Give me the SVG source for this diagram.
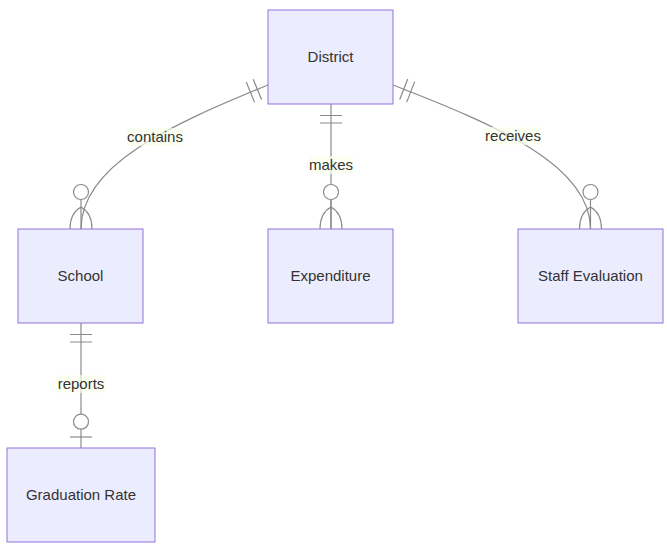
<svg xmlns="http://www.w3.org/2000/svg" width="667" height="548" viewBox="0 0 667 548">
<style>
.ent rect{fill:#ECECFF;stroke:#9370DB;stroke-width:1}
.ent text{font-family:"Liberation Sans",Arial,sans-serif;font-size:15px;fill:#333;text-anchor:middle;dominant-baseline:central}
.rel{fill:none;stroke:#8a8a8a;stroke-width:1.2}
.lbl rect{fill:#f9ffec;opacity:0.7}
.lbl text{font-family:"Liberation Sans",Arial,sans-serif;font-size:15px;fill:#333;text-anchor:middle;dominant-baseline:central}
.mk{fill:none;stroke:#8a8a8a;stroke-width:1.2}
.mkc{fill:#fff;stroke:#8a8a8a;stroke-width:1.2}
</style>
<defs>
<marker id="onlyOneStart" markerUnits="userSpaceOnUse" orient="auto" refX="0" refY="0" markerWidth="40" markerHeight="40" viewBox="-20 -20 40 40" overflow="visible">
<path class="mk" d="M11.5,-11V11M19,-11V11"/>
</marker>
<marker id="zeroOrMoreEnd" markerUnits="userSpaceOnUse" orient="auto" refX="0" refY="0" markerWidth="60" markerHeight="40" viewBox="-50 -20 60 40" overflow="visible">
<path class="mk" d="M-30,0H0M-22,0Q-16,-11 0,-11M-22,0Q-16,11 0,11"/>
<circle class="mkc" cx="-37" cy="0" r="7.5"/>
</marker>
<marker id="zeroOrOneEnd" markerUnits="userSpaceOnUse" orient="auto" refX="0" refY="0" markerWidth="60" markerHeight="40" viewBox="-50 -20 60 40" overflow="visible">
<path class="mk" d="M-11,-11V11"/>
<circle class="mkc" cx="-26.3" cy="0" r="7.5"/>
</marker>
</defs>
<g id="connectors">
<path class="rel" d="M268,85C170,125 81,165 81,229" marker-start="url(#onlyOneStart)" marker-end="url(#zeroOrMoreEnd)"/>
<path class="rel" d="M331,104L331,229" marker-start="url(#onlyOneStart)" marker-end="url(#zeroOrMoreEnd)"/>
<path class="rel" d="M393,85C496,125 590.5,165 590.5,229" marker-start="url(#onlyOneStart)" marker-end="url(#zeroOrMoreEnd)"/>
<path class="rel" d="M81,323L81,448" marker-start="url(#onlyOneStart)" marker-end="url(#zeroOrOneEnd)"/>
<g class="lbl" id="label-contains"><rect x="127" y="128" width="56" height="18"/><text x="155" y="136.5">contains</text></g>
<g class="lbl" id="label-makes"><rect x="309" y="156" width="44" height="18"/><text x="331" y="164.5">makes</text></g>
<g class="lbl" id="label-receives"><rect x="484" y="127" width="58" height="18"/><text x="513" y="135.5">receives</text></g>
<g class="lbl" id="label-reports"><rect x="56" y="375" width="50" height="18"/><text x="81" y="383.5">reports</text></g>
</g>
<g id="District" class="ent"><rect x="268" y="10" width="125" height="94"/><text x="330.5" y="56">District</text></g>
<g id="School" class="ent"><rect x="18" y="229" width="125" height="94"/><text x="80.5" y="275">School</text></g>
<g id="Expenditure" class="ent"><rect x="268" y="229" width="125" height="94"/><text x="330.5" y="275">Expenditure</text></g>
<g id="StaffEvaluation" class="ent"><rect x="518" y="229" width="145" height="94"/><text x="590.5" y="275">Staff Evaluation</text></g>
<g id="GraduationRate" class="ent"><rect x="7" y="448" width="148" height="94"/><text x="81" y="494">Graduation Rate</text></g>
</svg>
